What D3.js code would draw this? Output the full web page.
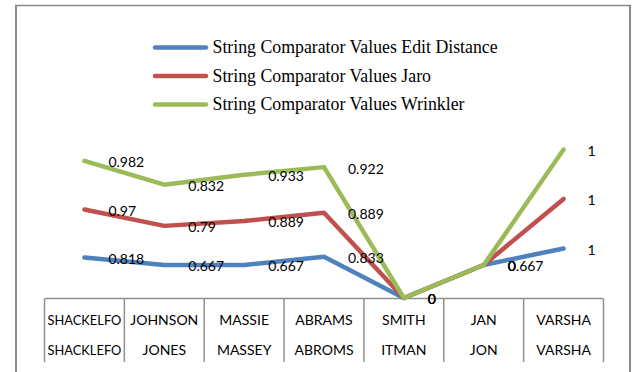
<!DOCTYPE html>
<html>
<head>
<meta charset="utf-8">
<script src="https://cdn.jsdelivr.net/npm/d3@7"></script>
<style>
  html, body { margin: 0; padding: 0; background: #fff; }
  svg { display: block; }
</style>
</head>
<body>
<svg id="chart" width="633" height="372"></svg>
<script>
// Name pairs compared (first and second row of the category axis)
const namesFirst  = ["SHACKELFO", "JOHNSON", "MASSIE", "ABRAMS", "SMITH", "JAN", "VARSHA"];
const namesSecond = ["SHACKLEFO", "JONES", "MASSEY", "ABROMS", "ITMAN", "JON", "VARSHA"];

// Comparator scores per pair
const editDistance = [0.818, 0.667, 0.667, 0.833, 0, 0.667, 1];
const jaro         = [0.97, 0.79, 0.889, 0.889, 0, 0, 1];
const winkler      = [0.982, 0.832, 0.933, 0.922, 0, 0, 1];

const seriesNames = [
  "String Comparator Values Edit Distance",
  "String Comparator Values Jaro",
  "String Comparator Values Wrinkler"
];
const seriesColors = ["#4F81BD", "#C0504D", "#9BBB59"];

const svg = d3.select("#chart");
const W = 633, H = 372;

svg.append("rect").attr("width", W).attr("height", H).attr("fill", "#fff");

// Outer frame
const frame = svg.append("g").attr("stroke", "#8a8a8a").attr("fill", "none");
frame.append("line").attr("x1", 16).attr("x2", 16).attr("y1", 5).attr("y2", H).attr("stroke-width", 2);
frame.append("line").attr("x1", 15).attr("x2", 631).attr("y1", 5.5).attr("y2", 5.5).attr("stroke-width", 1.5);
frame.append("line").attr("x1", 630).attr("x2", 630).attr("y1", 5).attr("y2", H).attr("stroke-width", 2);

// Stacked line layout
const rows = namesFirst.map((n, i) => ({
  key: n + "|" + namesSecond[i],
  ed: editDistance[i], jaro: jaro[i], wink: winkler[i], raw: [editDistance[i], jaro[i], winkler[i]]
}));
const stacked = d3.stack().keys(["ed", "jaro", "wink"])(rows);

const keys = rows.map(d => d.key);
const x = d3.scaleBand().domain(keys).range([44.5, 603.5]);
const cx = k => x(k) + x.bandwidth() / 2;
const y = d3.scaleLinear().domain([0, 3]).range([298, 149.5]);

// Category axis: baseline plus separators between pairs
const axisY = y(0) + 0.5;
const axis = svg.append("g").attr("stroke", "#909090").attr("stroke-width", 1.5);
axis.append("line").attr("x1", x.range()[0]).attr("x2", x.range()[1]).attr("y1", axisY).attr("y2", axisY);
const edges = keys.map(k => x(k)).concat([x.range()[1]]);
axis.selectAll("line.sep").data(edges).join("line")
  .attr("class", "sep")
  .attr("x1", d => d).attr("x2", d => d)
  .attr("y1", axisY).attr("y2", 362);

const labelFont = "Lato, 'Open Sans', sans-serif";
const cats = svg.append("g").attr("font-family", labelFont).attr("font-size", 14)
  .attr("fill", "#000").attr("text-anchor", "middle");
const maxCatWidth = x.bandwidth() - 6;
function fitCell(sel) {
  sel.each(function () {
    const w = this.getComputedTextLength();
    if (w > maxCatWidth) {
      d3.select(this).attr("textLength", maxCatWidth).attr("lengthAdjust", "spacingAndGlyphs");
    }
  });
}
cats.selectAll("text.first").data(keys).join("text")
  .attr("class", "first")
  .attr("x", d => cx(d)).attr("y", 325)
  .text((d, i) => namesFirst[i])
  .call(fitCell);
cats.selectAll("text.second").data(keys).join("text")
  .attr("class", "second")
  .attr("x", d => cx(d)).attr("y", 355)
  .text((d, i) => namesSecond[i])
  .call(fitCell);

// Lines
const line = d3.line().x(d => cx(d.data.key)).y(d => y(d[1]));
svg.append("g").selectAll("path").data(stacked).join("path")
  .attr("d", line)
  .attr("fill", "none")
  .attr("stroke", (d, i) => seriesColors[i])
  .attr("stroke-width", 4.5)
  .attr("stroke-linejoin", "round")
  .attr("stroke-linecap", "round");

// Value labels to the right of each point
const labels = svg.append("g").attr("font-family", labelFont).attr("font-size", 14).attr("fill", "#000");
stacked.forEach((s, si) => {
  labels.selectAll("text.s" + si).data(s).join("text")
    .attr("class", "s" + si)
    .attr("x", d => cx(d.data.key) + 24)
    .attr("y", d => y(d[1]) + 1.5)
    .attr("dy", "0.35em")
    .text(d => d3.format("")(d.data.raw[si]));
});

// Legend
const legend = svg.append("g");
const legendRows = [47.5, 76, 104.5];
seriesNames.forEach((name, i) => {
  legend.append("line")
    .attr("x1", 155).attr("x2", 206)
    .attr("y1", legendRows[i]).attr("y2", legendRows[i])
    .attr("stroke", seriesColors[i]).attr("stroke-width", 4.5).attr("stroke-linecap", "round");
  legend.append("text")
    .attr("x", 212.5).attr("y", legendRows[i]).attr("dy", "0.33em")
    .attr("font-family", "'Liberation Serif', 'Times New Roman', serif")
    .attr("font-size", 17.8).attr("fill", "#000")
    .text(name);
});
</script>
</body>
</html>
